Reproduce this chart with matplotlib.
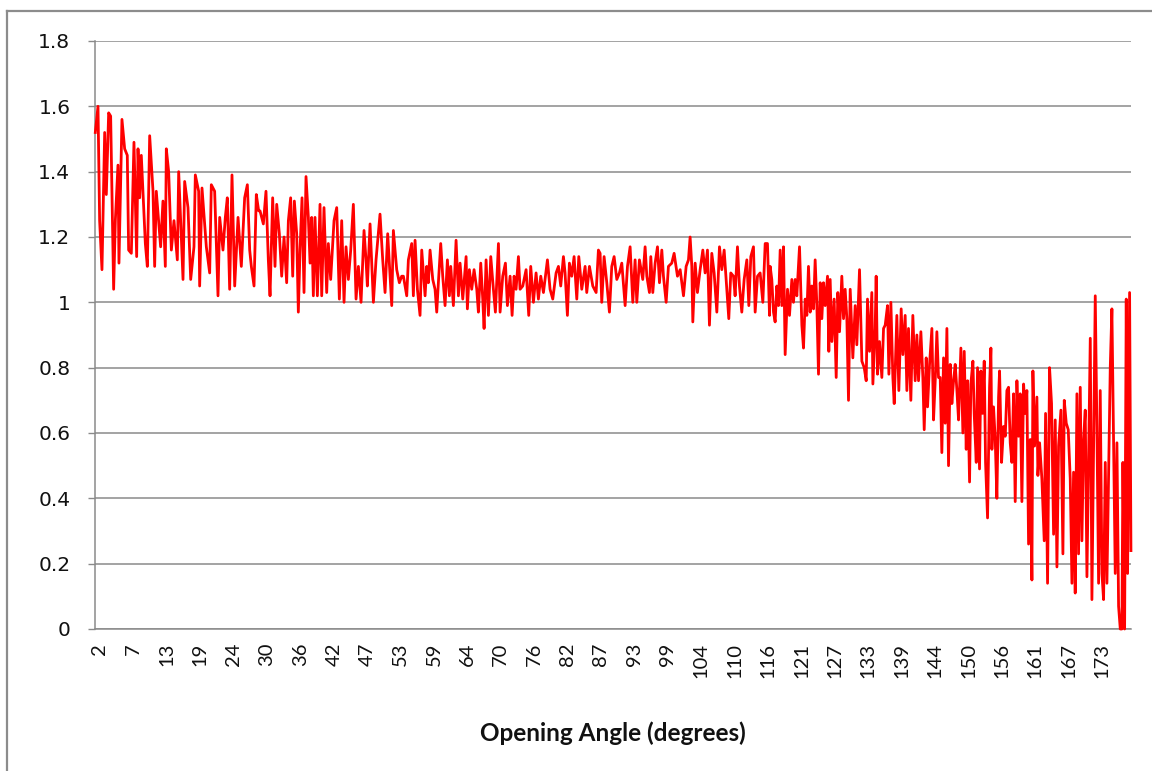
import matplotlib
matplotlib.use("Agg")
import matplotlib.pyplot as plt
from matplotlib.lines import Line2D

# Opening angle (degrees) and the measured ratio at each angle
angle_deg = [
    0.90, 1.36, 1.64, 2.04, 2.50, 2.78, 3.18, 3.52, 4.03, 4.32,
    4.77, 4.94, 5.45, 5.91, 6.36, 6.59, 7.05, 7.50, 7.96, 8.19,
    8.47, 8.75, 9.44, 9.78, 10.18, 10.75, 11.03, 11.31, 12.05, 12.45,
    12.85, 13.02, 13.42, 13.88, 14.33, 14.90, 15.13, 15.87, 16.15, 16.72,
    17.18, 17.74, 17.97, 18.54, 18.71, 19.11, 19.85, 20.42, 20.70, 21.27,
    21.84, 22.13, 22.69, 23.09, 23.43, 23.83, 24.23, 24.69, 25.26, 25.82,
    26.39, 26.85, 27.25, 27.53, 27.99, 28.38, 28.78,
    29.01, 29.58, 30.03, 30.43, 30.72, 31.17, 31.57, 31.86, 32.31, 32.71,
    33.11, 33.56, 33.85, 34.24, 34.59, 34.87, 35.27, 35.55, 35.84, 36.18,
    36.52, 36.86, 37.26, 37.55, 37.83, 38.11, 38.40, 38.80, 39.25, 39.54,
    39.93, 40.39, 40.67, 41.07, 41.64, 42.10, 42.55, 42.95, 43.35, 43.69,
    44.09, 44.49, 44.94, 45.40, 45.80, 46.25, 46.76, 47.10, 47.33, 47.79,
    48.36, 48.81, 49.49, 49.95, 50.35, 50.80, 51.20, 51.49, 51.77, 52.34,
    52.79, 53.19, 53.48, 54.05, 54.33, 54.90, 55.18, 55.47, 55.87, 56.32,
    56.61, 57.18, 57.46, 57.74,
    58.03, 58.49, 58.88, 59.17, 59.45, 59.85, 60.19, 60.59, 60.99, 61.33,
    61.56, 62.01, 62.47, 62.87, 63.15, 63.61, 64.18, 64.40, 64.74, 65.14,
    65.54, 66.00, 66.28, 66.68, 67.02, 67.25, 67.59, 67.99, 68.39, 68.84,
    69.18, 69.70, 69.98, 70.43, 70.89, 71.23, 71.69, 72.03, 72.37, 72.71,
    73.11, 73.39, 73.85, 74.42, 74.87, 75.21, 75.67, 76.12, 76.52, 76.92,
    77.38, 78.06, 78.51, 78.97, 79.54, 79.94, 80.33, 80.79, 81.07, 81.47,
    81.81, 82.21, 82.61, 83.07, 83.41, 83.92, 84.49, 84.77, 85.23, 85.80,
    86.37, 86.76,
    87.05, 87.33, 87.73, 88.19, 88.64, 89.04, 89.44, 89.90, 90.35, 90.75,
    91.32, 91.72, 92.17, 92.63, 93.02, 93.31, 93.76, 94.33, 94.73, 95.02,
    95.47, 95.70, 96.04, 96.44, 96.84, 97.18, 97.58, 97.86, 98.32, 98.71,
    99.28, 99.68, 100.25, 100.71, 101.28, 101.73, 102.13, 102.41, 102.70, 102.87,
    103.27, 103.66, 104.12, 104.58, 104.97, 105.37, 105.71, 106.11, 106.51, 106.97,
    107.42, 107.82, 108.22, 108.67, 109.01, 109.35, 109.81, 110.09, 110.49, 110.83,
    111.23, 111.63, 112.09, 112.43, 112.77, 113.22, 113.51, 113.91, 114.36, 114.82,
    115.22, 115.61, 115.96,
    116.07, 116.35, 116.64, 116.92, 117.21, 117.49, 117.78, 118.06, 118.35, 118.63,
    119.03, 119.37, 119.77, 120.05, 120.34, 120.62, 121.08, 121.48, 121.76, 122.05,
    122.33, 122.61, 122.90, 123.18, 123.47, 123.75, 124.04, 124.32, 124.61, 124.89,
    125.17, 125.46, 125.86, 126.08, 126.31, 126.60, 126.99, 127.34, 127.62, 127.91,
    128.30, 128.59, 128.87, 129.16, 129.44, 129.73, 130.18, 130.58, 130.86, 131.32,
    131.72, 132.12, 132.46, 132.68, 133.03, 133.42, 133.60, 133.99, 134.16, 134.39,
    134.73, 135.13, 135.42, 135.70, 136.10, 136.33, 136.67, 137.01, 137.24, 137.69,
    138.03, 138.43, 138.72, 139.11, 139.40, 139.68, 140.08, 140.42, 140.82, 141.11,
    141.39, 141.79, 142.13, 142.36, 142.70, 142.93, 143.27, 143.67, 143.95, 144.24,
    144.52, 144.80,
    145.09, 145.37, 145.66, 145.94, 146.23, 146.51, 146.80, 147.08, 147.37, 147.65,
    147.94, 148.22, 148.62, 148.96, 149.19, 149.53, 149.76, 150.10, 150.32, 150.67,
    150.89, 151.24, 151.46, 151.80, 152.03, 152.32, 152.60, 152.83, 153.17, 153.51,
    153.74, 153.91, 154.19, 154.48, 154.76, 155.05, 155.22, 155.56, 155.90, 156.19,
    156.47, 156.75, 157.04, 157.32, 157.61, 157.89, 158.18, 158.46, 158.75, 159.03,
    159.32, 159.60, 159.88, 160.17, 160.45, 160.74, 160.91, 161.19, 161.59, 161.76,
    162.05, 162.44, 162.84, 163.07, 163.41, 163.75, 164.09, 164.44, 164.72, 165.01,
    165.29, 165.69, 166.03, 166.26, 166.60, 166.94, 167.28, 167.57, 167.85, 168.13,
    168.42, 168.70, 168.99, 169.27, 169.56, 169.84, 170.13, 170.41, 170.70, 170.98,
    171.26, 171.55, 171.83, 172.12, 172.40, 172.69, 172.97, 173.26, 173.54, 173.82,
    174.11, 174.39, 174.68, 174.96, 175.25, 175.53, 175.82, 176.10, 176.27, 176.56,
    176.84, 177.07, 177.41, 177.64,
]

ratio = [
    1.52, 1.60, 1.25, 1.10, 1.52, 1.33, 1.58, 1.57, 1.04, 1.25,
    1.42, 1.12, 1.56, 1.47, 1.45, 1.16, 1.15, 1.49, 1.14, 1.47,
    1.32, 1.45, 1.18, 1.11, 1.51, 1.34, 1.11, 1.34, 1.17, 1.31,
    1.11, 1.47, 1.40, 1.16, 1.25, 1.13, 1.40, 1.07, 1.37, 1.29,
    1.07, 1.17, 1.39, 1.34, 1.05, 1.35, 1.17, 1.09, 1.36, 1.34,
    1.02, 1.26, 1.16, 1.26, 1.32, 1.04, 1.39, 1.05, 1.26, 1.11,
    1.32, 1.36, 1.16, 1.11, 1.05, 1.33, 1.28,
    1.28, 1.24, 1.34, 1.13, 1.02, 1.32, 1.11, 1.30, 1.21, 1.08,
    1.20, 1.06, 1.25, 1.32, 1.08, 1.31, 1.21, 0.97, 1.16, 1.32,
    1.03, 1.385, 1.26, 1.12, 1.26, 1.02, 1.26, 1.02, 1.30, 1.02,
    1.29, 1.03, 1.18, 1.07, 1.25, 1.29, 1.01, 1.25, 1.00, 1.17,
    1.07, 1.16, 1.30, 1.01, 1.11, 1.00, 1.22, 1.13, 1.05, 1.24,
    1.00, 1.13, 1.27, 1.13, 1.03, 1.21, 1.08, 0.99, 1.22, 1.10,
    1.06, 1.08, 1.08, 1.02, 1.13, 1.18, 1.02, 1.19, 1.04, 0.96,
    1.16, 1.02, 1.11, 1.06,
    1.16, 1.07, 1.04, 0.97, 1.06, 1.18, 1.08, 0.99, 1.13, 1.02,
    1.11, 0.99, 1.19, 1.02, 1.12, 1.01, 1.14, 0.98, 1.10, 1.04,
    1.10, 1.04, 0.97, 1.12, 1.01, 0.92, 1.13, 0.96, 1.14, 1.04,
    0.97, 1.18, 0.97, 1.08, 1.12, 0.99, 1.08, 0.96, 1.08, 1.04,
    1.14, 1.04, 1.05, 1.10, 0.96, 1.11, 1.00, 1.09, 1.01, 1.08,
    1.03, 1.13, 1.04, 1.01, 1.09, 1.11, 1.05, 1.14, 1.09, 0.96,
    1.12, 1.08, 1.14, 1.01, 1.14, 1.04, 1.11, 1.03, 1.11, 1.05,
    1.03, 1.16,
    1.15, 1.00, 1.14, 1.06, 0.97, 1.11, 1.14, 1.07, 1.09, 1.12,
    0.99, 1.11, 1.17, 1.00, 1.13, 1.00, 1.13, 1.07, 1.17, 1.08,
    1.03, 1.14, 1.03, 1.12, 1.17, 1.06, 1.16, 1.08, 1.00, 1.11,
    1.12, 1.15, 1.08, 1.10, 1.02, 1.11, 1.13, 1.20, 1.11, 0.94,
    1.12, 1.03, 1.10, 1.16, 1.09, 1.16, 0.93, 1.15, 1.09, 0.97,
    1.17, 1.10, 1.16, 1.04, 0.95, 1.09, 1.08, 1.02, 1.17, 1.05,
    0.97, 1.07, 1.13, 0.99, 1.14, 1.17, 0.97, 1.08, 1.09, 1.00,
    1.18, 1.18, 0.96,
    1.11, 1.07, 0.97, 0.94, 1.05, 0.99, 1.16, 0.99, 1.17, 0.84,
    1.04, 0.96, 1.07, 1.00, 1.07, 1.02, 1.17, 0.93, 0.86, 1.01,
    0.96, 1.11, 0.97, 1.05, 0.98, 1.13, 0.99, 0.78, 1.06, 0.95,
    1.06, 0.99, 1.08, 0.85, 1.07, 0.88, 1.01, 0.77, 1.03, 0.91,
    1.08, 0.95, 1.04, 0.95, 0.70, 1.04, 0.83, 0.99, 0.87, 1.10,
    0.82, 0.80, 0.76, 1.01, 0.85, 1.03, 0.75, 0.92, 1.08, 0.78,
    0.88, 0.77, 0.92, 0.93, 0.99, 0.78, 1.00, 0.77, 0.69, 0.96,
    0.73, 0.98, 0.84, 0.96, 0.73, 0.92, 0.70, 0.96, 0.76, 0.90,
    0.76, 0.91, 0.77, 0.61, 0.83, 0.68, 0.81, 0.92, 0.64, 0.76,
    0.91, 0.77,
    0.77, 0.54, 0.83, 0.63, 0.92, 0.50, 0.81, 0.69, 0.76, 0.81,
    0.73, 0.64, 0.86, 0.60, 0.85, 0.55, 0.76, 0.45, 0.75, 0.82,
    0.66, 0.51, 0.80, 0.49, 0.79, 0.66, 0.82, 0.51, 0.34, 0.74,
    0.86, 0.55, 0.68, 0.58, 0.40, 0.71, 0.79, 0.51, 0.62, 0.59,
    0.73, 0.74, 0.57, 0.51, 0.72, 0.39, 0.76, 0.59, 0.72, 0.39,
    0.75, 0.66, 0.73, 0.26, 0.58, 0.15, 0.79, 0.56, 0.71, 0.47,
    0.57, 0.46, 0.27, 0.66, 0.14, 0.80, 0.69, 0.29, 0.64, 0.19,
    0.56, 0.67, 0.23, 0.70, 0.63, 0.61, 0.46, 0.14, 0.48, 0.11,
    0.72, 0.23, 0.74, 0.27, 0.58, 0.67, 0.16, 0.53, 0.89, 0.09,
    0.54, 1.02, 0.62, 0.14, 0.73, 0.17, 0.09, 0.51, 0.14, 0.46,
    0.80, 0.98, 0.58, 0.17, 0.57, 0.07, 0.00, 0.00, 0.51, 0.00,
    1.01, 0.17, 1.03, 0.24,
]

# Category labels shown along the angle axis
x_tick_labels = ["2", "7", "13", "19", "24", "30", "36", "42", "47", "53",
                 "59", "64", "70", "76", "82", "87", "93", "99", "104", "110",
                 "116", "121", "127", "133", "139", "144", "150", "156", "161",
                 "167", "173"]
x_tick_values = [1.7 + 5.7 * i for i in range(len(x_tick_labels))]

y_tick_values = [0, 0.2, 0.4, 0.6, 0.8, 1.0, 1.2, 1.4, 1.6, 1.8]
y_tick_labels = ["0", "0.2", "0.4", "0.6", "0.8", "1", "1.2", "1.4", "1.6", "1.8"]

x_label = "Opening Angle (degrees)"

assert len(angle_deg) == len(ratio)

W, H = 1152, 771
fig = plt.figure(figsize=(W / 100, H / 100), dpi=100)
fig.patch.set_facecolor("white")

left_px, right_px, top_px, bottom_px = 95, 1131, 41, 629
ax = fig.add_axes([left_px / W, 1 - bottom_px / H,
                   (right_px - left_px) / W, (bottom_px - top_px) / H])

grid_col = "#8a8a8a"
ax.plot(angle_deg, ratio, color="#ff0000", lw=2.0, solid_joinstyle="round",
        clip_on=False, zorder=3)

ax.set_xlim(0.85, 177.65)
ax.set_ylim(0, 1.8)

ax.set_yticks(y_tick_values)
ax.set_yticklabels(y_tick_labels, fontfamily="DejaVu Sans", fontsize=14.5,
                   color="#111111")
ax.tick_params(axis="y", direction="out", length=5.2, width=1.0,
               color=grid_col, pad=12.5)

ax.set_xticks(x_tick_values)
ax.set_xticklabels(x_tick_labels, rotation=90, fontfamily="Lato", fontsize=14.5,
                   color="#111111")
ax.tick_params(axis="x", length=0, pad=10)

ax.yaxis.grid(True, color=grid_col, lw=1.1)
ax.xaxis.grid(False)
ax.set_axisbelow(True)

for side in ("top", "right"):
    ax.spines[side].set_visible(False)
for side in ("left", "bottom"):
    ax.spines[side].set_color(grid_col)
    ax.spines[side].set_linewidth(1.1)

fig.text(613 / W, 1 - 733 / H, x_label, ha="center", va="center",
         fontfamily="Lato", fontweight="bold", fontsize=17.5, color="#111111")

# Outer chart frame (left and top edges)
frame_col = "#8c8c8c"
fig.add_artist(Line2D([7 / W, 7 / W], [0, 1 - 11 / H], transform=fig.transFigure,
                      color=frame_col, lw=1.6))
fig.add_artist(Line2D([7 / W, 1], [1 - 11 / H, 1 - 11 / H],
                      transform=fig.transFigure, color=frame_col, lw=1.6))

fig.savefig("out.png", dpi=100, facecolor="white")
